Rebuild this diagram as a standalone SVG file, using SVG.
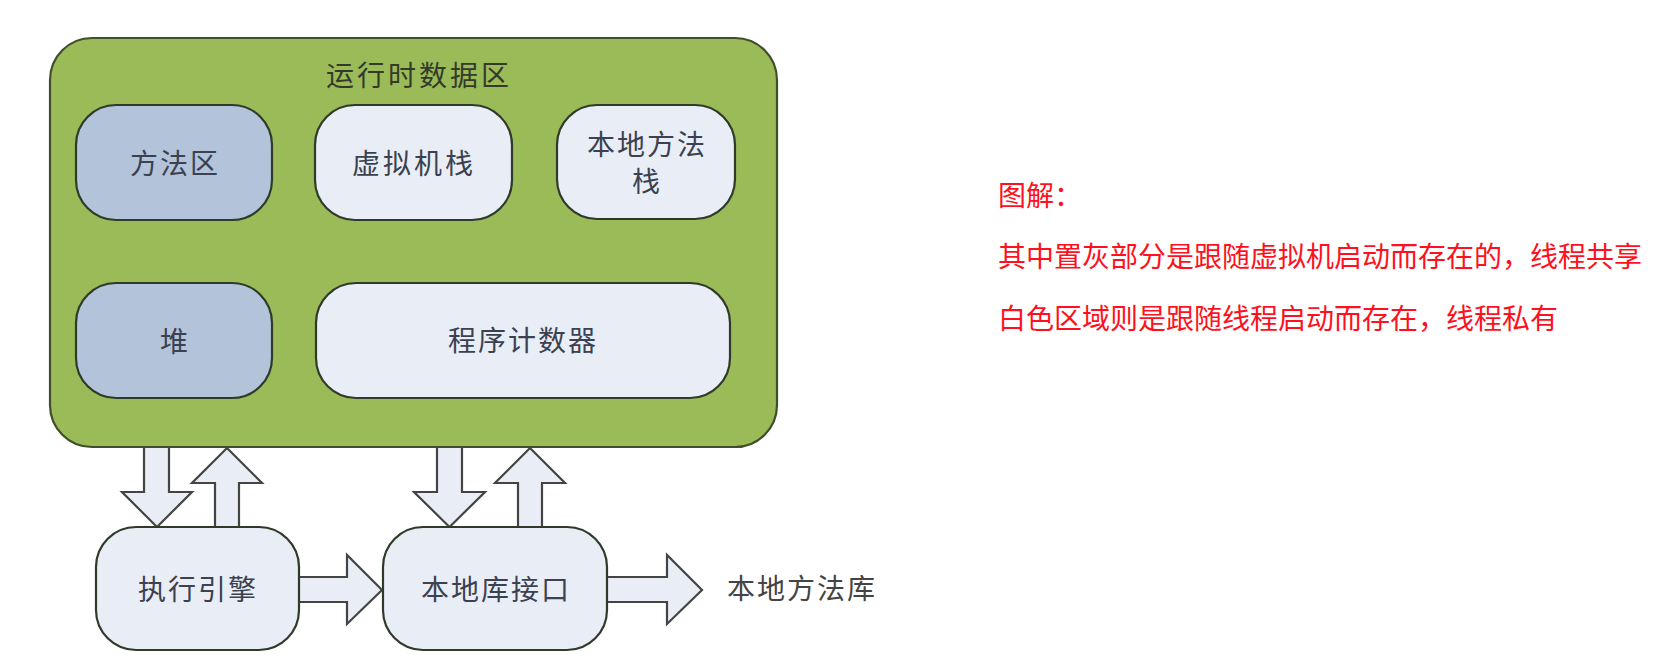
<svg xmlns="http://www.w3.org/2000/svg" width="1656" height="670" viewBox="0 0 1656 670">
<style>
.t{font-family:"Noto Sans CJK SC","Noto Sans",sans-serif;font-size:28px;fill:#3b4150;text-anchor:middle;dominant-baseline:central}
.gray{fill:#b3c3d9;stroke:#2f3a2a;stroke-width:2.2}
.light{fill:#e9edf6;stroke:#2f3a2a;stroke-width:2.2}
.arr{fill:#e9edf6;stroke:#444;stroke-width:2.2;stroke-linejoin:miter}
.red{font-family:"Noto Sans CJK SC","Noto Sans",sans-serif;font-size:28px;fill:#ff1020}
</style>
<rect width="1656" height="670" fill="#ffffff"/>
<g id="connectors">
<polygon class="arr" points="144,440 169,440 169,492 192,492 157,527 122,492 144,492"/>
<polygon class="arr" points="215,529 239,529 239,483 262,483 227,448 192,483 215,483"/>
<polygon class="arr" points="437,440 462,440 462,492 485,492 449.5,527 414,492 437,492"/>
<polygon class="arr" points="518,529 542,529 542,483 565,483 530,448 495,483 518,483"/>
<polygon class="arr" points="295,577 347,577 347,555 382,590 347,624 347,602 295,602"/>
<polygon class="arr" points="603,577 667,577 667,555 702,590 667,624 667,602 603,602"/>
</g>
<g id="runtime-data-area">
<rect x="50" y="38" width="727" height="409" rx="42" fill="#9bbb59" stroke="#3f4f2a" stroke-width="2.2"/>
<text class="t" x="419" y="74" style="fill:#333a2a;letter-spacing:3px">运行时数据区</text>
</g>
<g id="method-area">
<rect class="gray" x="76" y="105" width="196" height="115" rx="40"/>
<text class="t" x="175" y="162" style="letter-spacing:2px">方法区</text>
</g>
<g id="vm-stack">
<rect class="light" x="315" y="105" width="197" height="115" rx="40"/>
<text class="t" x="414" y="162" style="letter-spacing:3px">虚拟机栈</text>
</g>
<g id="native-method-stack">
<rect class="light" x="557" y="105" width="178" height="114" rx="40"/>
<text class="t" x="647" y="143" style="letter-spacing:2px">本地方法</text>
<text class="t" x="646" y="180">栈</text>
</g>
<g id="heap">
<rect class="gray" x="76" y="283" width="196" height="115" rx="40"/>
<text class="t" x="174" y="340">堆</text>
</g>
<g id="pc-register">
<rect class="light" x="316" y="283" width="414" height="115" rx="40"/>
<text class="t" x="523" y="339" style="letter-spacing:2px">程序计数器</text>
</g>
<g id="execution-engine">
<rect class="light" x="96" y="527" width="203" height="123" rx="40"/>
<text class="t" x="198" y="588" style="letter-spacing:2px">执行引擎</text>
</g>
<g id="native-interface">
<rect class="light" x="383" y="527" width="224" height="123" rx="40"/>
<text class="t" x="496" y="588" style="letter-spacing:2px">本地库接口</text>
</g>
<g id="native-library">
<text class="t" x="802" y="587" style="fill:#444;letter-spacing:2px">本地方法库</text>
</g>
<g id="legend">
<text class="red" x="998" y="206">图解：</text>
<text class="red" x="998" y="267">其中置灰部分是跟随虚拟机启动而存在的，线程共享</text>
<text class="red" x="998" y="329">白色区域则是跟随线程启动而存在，线程私有</text>
</g>
</svg>
